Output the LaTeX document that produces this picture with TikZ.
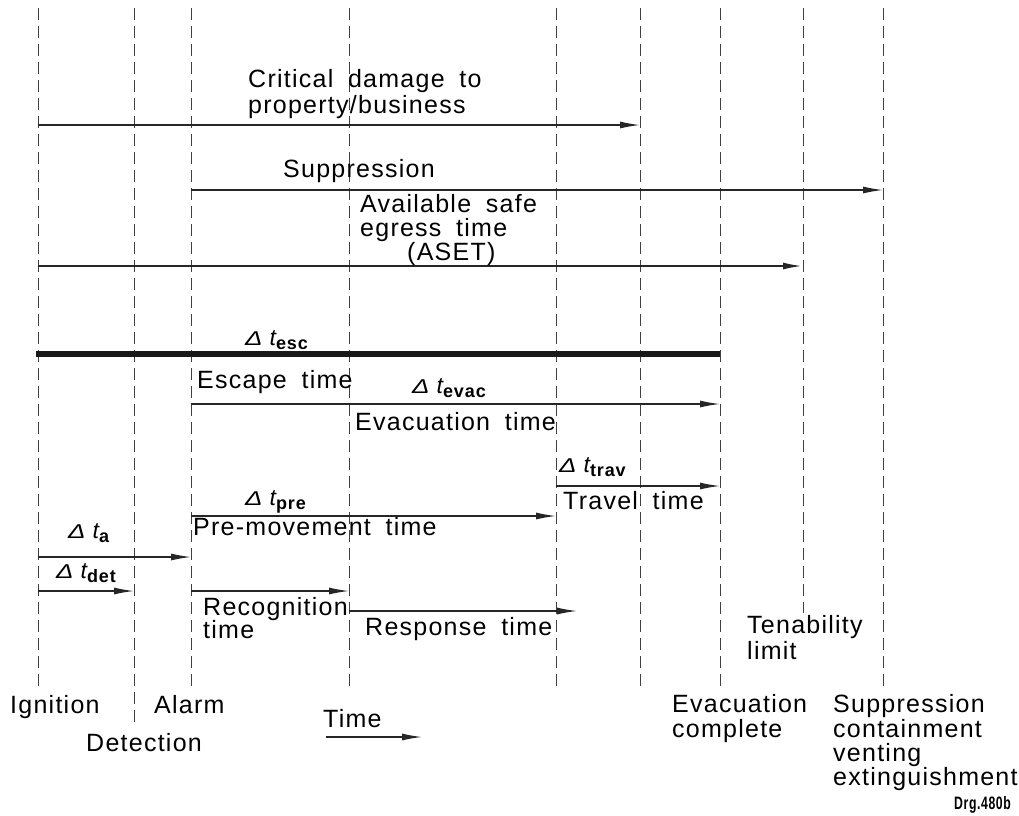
\documentclass[tikz,border=0pt]{standalone}
\usepackage{fontspec}
\setmainfont{Liberation Sans}[LetterSpace=5,WordSpace=1.8]
\usetikzlibrary{arrows.meta}
\newcommand\dtlabel[1]{{\fontsize{20}{20}\selectfont\itshape\scalebox{1.3}[1]{Δ}\hspace{7pt}{\fontsize{23}{23}\selectfont t}}\raisebox{-4pt}{\fontsize{18}{18}\selectfont\bfseries #1}}
\begin{document}
\begin{tikzpicture}[x=1pt,y=-1pt,
  vline/.style={draw=black!75,line width=1pt,dash pattern=on 12pt off 6pt},
  harrow/.style={draw=black!85,line width=1.3pt,-{Latex[length=20pt,width=7pt]}},
  lbl/.style={anchor=base west,inner sep=0pt,font=\fontsize{25}{25}\selectfont},
  dlbl/.style={anchor=base west,inner sep=0pt},
  ]
\useasboundingbox (0,0) rectangle (1019,815);
% vertical dashed lines
\foreach \n/\x/\b in {ign/38/688, det/134/727, alm/191/688, rec/349/688, pre/556/688, crit/640/688, evc/720/688, ten/803/613, sup/883/688}{
  \coordinate (\n T) at (\x,8);
  \coordinate (\n B) at (\x,\b);
  \draw[vline] (\n T) -- (\n B);
}
% arrow end coordinates
\coordinate (critS) at (ignT |- 0,125);   \coordinate (critE) at (critT |- 0,125);
\coordinate (supS) at (almT |- 0,190);    \coordinate (supE) at (supT |- 0,190);
\coordinate (asetS) at (ignT |- 0,266);   \coordinate (asetE) at (tenT |- 0,266);
\coordinate (escS) at (36,354);           \coordinate (escE) at (evcT |- 0,354);
\coordinate (evacS) at (almT |- 0,404);   \coordinate (evacE) at (evcT |- 0,404);
\coordinate (travS) at (preT |- 0,486);   \coordinate (travE) at (evcT |- 0,486);
\coordinate (premS) at (almT |- 0,516);   \coordinate (premE) at (preT |- 0,516);
\coordinate (aS) at (ignT |- 0,557);      \coordinate (aE) at (almT |- 0,557);
\coordinate (detS) at (ignT |- 0,591);    \coordinate (detE) at (detT |- 0,591);
\coordinate (recS) at (almT |- 0,591);    \coordinate (recE) at (recT |- 0,591);
\coordinate (resS) at (recT |- 0,611);    \coordinate (resE) at (577,611);
\coordinate (timeS) at (326,737);         \coordinate (timeE) at (422,737);
% arrows
\draw[harrow] (critS) -- (critE);
\draw[harrow] (supS) -- (supE);
\draw[harrow,line width=2.2pt] (asetS) -- (asetE);
\draw[draw=black!90,line width=5.5pt] (escS) -- (escE);
\draw[harrow] (evacS) -- (evacE);
\draw[harrow] (travS) -- (travE);
\draw[harrow] (premS) -- (premE);
\draw[harrow] (aS) -- (aE);
\draw[harrow] (detS) -- (detE);
\draw[harrow] (recS) -- (recE);
\draw[harrow] (resS) -- (resE);
\draw[harrow] (timeS) -- (timeE);
% labels
\node[lbl] (tcrit1) at (248,87) {Critical damage to};
\node[lbl] (tcrit2) at (248,113) {property/business};
\node[lbl] (tsup) at (283,177) {Suppression};
\node[lbl] (taset1) at (360,212) {Available safe};
\node[lbl] (taset2) at (360,236) {egress time};
\node[lbl] (taset3) at (407,260) {(ASET)};
\node[dlbl] (tesc) at (245,345) {\dtlabel{esc}};
\node[lbl] (tescape) at (197,388) {Escape time};
\node[dlbl] (tevac) at (412,393) {\dtlabel{evac}};
\node[lbl] (tevacuation) at (355,430) {Evacuation time};
\node[dlbl] (ttrav) at (559,472) {\dtlabel{trav}};
\node[lbl] (ttravel) at (563,509) {Travel time};
\node[dlbl] (tpre) at (245,505) {\dtlabel{pre}};
\node[lbl] (tpremove) at (193,535) {Pre-movement time};
\node[dlbl] (ta) at (68,538) {\dtlabel{a}};
\node[dlbl] (tdet) at (56,578) {\dtlabel{det}};
\node[lbl] (trec1) at (203,615) {Recognition};
\node[lbl] (trec2) at (203,638) {time};
\node[lbl] (tres) at (365,635) {Response time};
\node[lbl] (tten1) at (747,633) {Tenability};
\node[lbl] (tten2) at (747,659) {limit};
\node[lbl] (tign) at (10,713) {Ignition};
\node[lbl] (talm) at (154,713) {Alarm};
\node[lbl] (tdetn) at (86,751) {Detection};
\node[lbl] (ttime) at (323,727) {Time};
\node[lbl] (tevc1) at (672,712) {Evacuation};
\node[lbl] (tevc2) at (672,737) {complete};
\node[lbl] (tsup1) at (833,712) {Suppression};
\node[lbl] (tsup2) at (833,737) {containment};
\node[lbl] (tsup3) at (833,761) {venting};
\node[lbl] (tsup4) at (833,785) {extinguishment};
\node[dlbl,xscale=0.68] (tdrg) at (1011,809) [anchor=base east] {\fontsize{18}{18}\selectfont\bfseries Drg.480b};
\end{tikzpicture}
\end{document}
